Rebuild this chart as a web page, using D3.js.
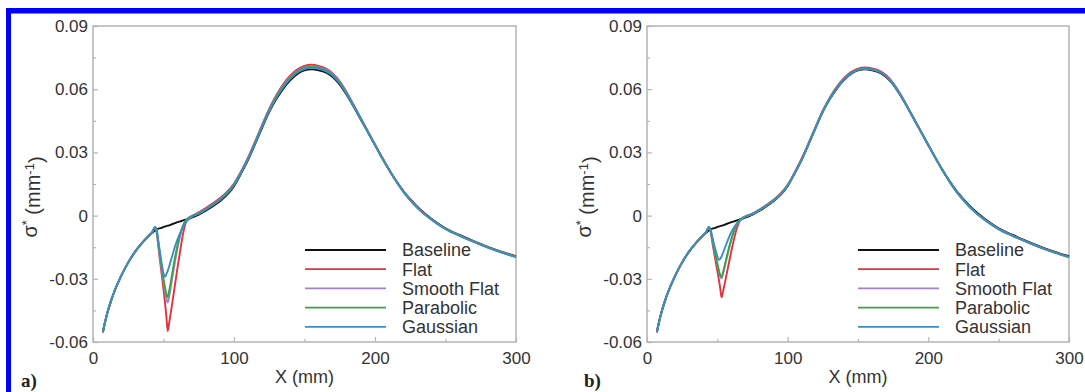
<!DOCTYPE html>
<html>
<head>
<meta charset="utf-8">
<script src="https://cdn.jsdelivr.net/npm/d3@7"></script>
<style>
  html, body { margin: 0; padding: 0; background: #fff; }
  svg { display: block; }
</style>
</head>
<body>
<svg id="fig" width="1085" height="392"></svg>
<script>
// ---- data -------------------------------------------------------------
const seriesNames  = ["Baseline", "Flat", "Smooth Flat", "Parabolic", "Gaussian"];
const seriesColors = ["#111111", "#e0333d", "#a283c8", "#3ba344", "#3d8dc4"];

const yTickValues = [-0.06, -0.03, 0, 0.03, 0.06, 0.09];
const yTickLabels = ["-0.06", "-0.03", "0", "0.03", "0.06", "0.09"];
const yMinorTicks = [-0.045, -0.015, 0.015, 0.045, 0.075];
const xTickValues = [0, 100, 200, 300];
const xTickLabels = ["0", "100", "200", "300"];
const xMinorTicks = [50, 150, 250];

// X positions (mm): upstream part, dip region, downstream part
const xPre  = [7, 8, 10, 13, 16, 20, 25, 30, 35, 40];
const xDip  = [42, 44, 45, 47, 49, 50, 51, 52, 53, 54, 56, 58, 60, 62, 64, 66, 68, 70];
const xPost = [75, 80, 85, 90, 95, 100, 105, 110, 115, 120, 125, 130, 135, 140, 145, 150,
               155, 160, 165, 170, 175, 180, 185, 190, 195, 200, 205, 210, 215, 220, 225, 230,
               240, 250, 260, 270, 280, 290, 300];

// upstream part, common to every case
const yPre = [-0.0554, -0.0522, -0.0466, -0.0400, -0.0346, -0.0286, -0.0222, -0.0170, -0.0128, -0.0093];

// Baseline (same in both panels)
const baselineDip  = [-0.0082, -0.0071, -0.0066, -0.0061, -0.0057, -0.0054, -0.0052, -0.0050, -0.0048,
                      -0.0046, -0.0041, -0.0036, -0.0031, -0.0027, -0.0023, -0.0018, -0.0014, -0.0010];
const baselinePost = [0.0005, 0.0023, 0.0044, 0.0068, 0.0098, 0.0140, 0.0200, 0.0265, 0.0340, 0.0418,
                      0.0492, 0.0553, 0.0603, 0.0643, 0.0672, 0.0689, 0.0694, 0.0690, 0.0680, 0.0658,
                      0.0622, 0.0572, 0.0515, 0.0455, 0.0395, 0.0335, 0.0275, 0.0218, 0.0165, 0.0118,
                      0.0078, 0.0042, -0.0015, -0.0060, -0.0092, -0.0121, -0.0148, -0.0172, -0.0193];

// panel a)
const aFlatDip      = [-0.0077, -0.0057, -0.0075, -0.0185, -0.0295, -0.0350, -0.0410, -0.0475, -0.0548,
                       -0.0510, -0.0425, -0.0335, -0.0245, -0.0160, -0.0082, -0.0030, -0.0010, -0.0002];
const aSmoothDip    = [-0.0078, -0.0056, -0.0070, -0.0170, -0.0268, -0.0315, -0.0358, -0.0395, -0.0413,
                       -0.0385, -0.0305, -0.0225, -0.0152, -0.0092, -0.0048, -0.0022, -0.0010, -0.0003];
const aParabolicDip = [-0.0078, -0.0055, -0.0068, -0.0165, -0.0258, -0.0300, -0.0338, -0.0372, -0.0387,
                       -0.0358, -0.0282, -0.0205, -0.0138, -0.0083, -0.0044, -0.0021, -0.0010, -0.0003];
const aGaussianDip  = [-0.0079, -0.0054, -0.0063, -0.0150, -0.0238, -0.0275, -0.0290, -0.0278, -0.0262,
                       -0.0242, -0.0195, -0.0150, -0.0112, -0.0080, -0.0052, -0.0030, -0.0017, -0.0006];

const aFlatPost      = [0.0016, 0.0036, 0.0058, 0.0082, 0.0112, 0.0152, 0.0210, 0.0276, 0.0352, 0.0432,
                        0.0508, 0.0572, 0.0625, 0.0665, 0.0694, 0.0711, 0.0716, 0.0711, 0.0699, 0.0675,
                        0.0637, 0.0584, 0.0524, 0.0462, 0.0400, 0.0338, 0.0277, 0.0219, 0.0165, 0.0117,
                        0.0076, 0.0040, -0.0017, -0.0062, -0.0094, -0.0123, -0.0150, -0.0174, -0.0195];
const aSmoothPost    = [0.0012, 0.0031, 0.0053, 0.0077, 0.0107, 0.0148, 0.0207, 0.0273, 0.0349, 0.0428,
                        0.0503, 0.0566, 0.0618, 0.0658, 0.0687, 0.0704, 0.0709, 0.0705, 0.0694, 0.0671,
                        0.0633, 0.0581, 0.0522, 0.0460, 0.0398, 0.0336, 0.0275, 0.0217, 0.0163, 0.0115,
                        0.0074, 0.0038, -0.0019, -0.0063, -0.0095, -0.0124, -0.0151, -0.0175, -0.0196];
const aParabolicPost = [0.0011, 0.0030, 0.0052, 0.0076, 0.0106, 0.0147, 0.0206, 0.0272, 0.0347, 0.0426,
                        0.0501, 0.0564, 0.0615, 0.0655, 0.0684, 0.0701, 0.0706, 0.0702, 0.0691, 0.0668,
                        0.0631, 0.0579, 0.0520, 0.0459, 0.0397, 0.0336, 0.0275, 0.0217, 0.0163, 0.0115,
                        0.0074, 0.0038, -0.0019, -0.0063, -0.0095, -0.0124, -0.0151, -0.0175, -0.0196];
const aGaussianPost  = [0.0009, 0.0028, 0.0050, 0.0074, 0.0104, 0.0145, 0.0204, 0.0270, 0.0345, 0.0423,
                        0.0497, 0.0559, 0.0610, 0.0650, 0.0679, 0.0696, 0.0701, 0.0697, 0.0686, 0.0664,
                        0.0627, 0.0576, 0.0518, 0.0457, 0.0396, 0.0335, 0.0274, 0.0216, 0.0162, 0.0114,
                        0.0073, 0.0037, -0.0020, -0.0064, -0.0096, -0.0125, -0.0152, -0.0176, -0.0197];

// panel b)
const bFlatDip      = [-0.0078, -0.0056, -0.0070, -0.0150, -0.0225, -0.0262, -0.0300, -0.0342, -0.0388,
                       -0.0362, -0.0298, -0.0232, -0.0168, -0.0108, -0.0058, -0.0025, -0.0011, -0.0004];
const bSmoothDip    = [-0.0078, -0.0055, -0.0068, -0.0135, -0.0200, -0.0232, -0.0262, -0.0288, -0.0298,
                       -0.0278, -0.0222, -0.0166, -0.0115, -0.0072, -0.0040, -0.0021, -0.0011, -0.0004];
const bParabolicDip = [-0.0078, -0.0055, -0.0067, -0.0132, -0.0196, -0.0227, -0.0257, -0.0282, -0.0290,
                       -0.0270, -0.0215, -0.0160, -0.0110, -0.0069, -0.0039, -0.0021, -0.0011, -0.0004];
const bGaussianDip  = [-0.0079, -0.0054, -0.0063, -0.0118, -0.0170, -0.0193, -0.0210, -0.0206, -0.0194,
                       -0.0178, -0.0142, -0.0108, -0.0078, -0.0054, -0.0036, -0.0023, -0.0014, -0.0006];

const bFlatPost      = [0.0010, 0.0029, 0.0051, 0.0075, 0.0105, 0.0146, 0.0205, 0.0271, 0.0346, 0.0424,
                        0.0499, 0.0561, 0.0612, 0.0652, 0.0681, 0.0698, 0.0703, 0.0699, 0.0688, 0.0666,
                        0.0629, 0.0578, 0.0519, 0.0458, 0.0396, 0.0335, 0.0274, 0.0216, 0.0162, 0.0114,
                        0.0073, 0.0037, -0.0020, -0.0064, -0.0096, -0.0125, -0.0152, -0.0176, -0.0197];
const bSmoothPost    = [0.0008, 0.0027, 0.0048, 0.0072, 0.0102, 0.0143, 0.0203, 0.0268, 0.0343, 0.0421,
                        0.0495, 0.0557, 0.0607, 0.0647, 0.0676, 0.0693, 0.0698, 0.0694, 0.0684, 0.0662,
                        0.0625, 0.0575, 0.0517, 0.0456, 0.0395, 0.0334, 0.0274, 0.0216, 0.0162, 0.0114,
                        0.0073, 0.0037, -0.0020, -0.0064, -0.0096, -0.0125, -0.0152, -0.0176, -0.0197];
const bParabolicPost = [0.0008, 0.0027, 0.0048, 0.0072, 0.0102, 0.0143, 0.0203, 0.0268, 0.0343, 0.0421,
                        0.0495, 0.0557, 0.0607, 0.0647, 0.0676, 0.0693, 0.0698, 0.0694, 0.0684, 0.0662,
                        0.0625, 0.0575, 0.0517, 0.0456, 0.0395, 0.0334, 0.0274, 0.0216, 0.0162, 0.0114,
                        0.0073, 0.0037, -0.0020, -0.0064, -0.0096, -0.0125, -0.0152, -0.0176, -0.0197];
const bGaussianPost  = [0.0007, 0.0026, 0.0047, 0.0071, 0.0101, 0.0142, 0.0202, 0.0267, 0.0342, 0.0420,
                        0.0494, 0.0556, 0.0606, 0.0646, 0.0675, 0.0692, 0.0697, 0.0693, 0.0683, 0.0661,
                        0.0624, 0.0574, 0.0516, 0.0456, 0.0395, 0.0334, 0.0274, 0.0216, 0.0162, 0.0114,
                        0.0073, 0.0037, -0.0020, -0.0064, -0.0096, -0.0125, -0.0152, -0.0176, -0.0197];

// ---- assemble series ---------------------------------------------------
const xAll = xPre.concat(xDip, xPost);
function makeSeries(dip, post) {
  const ys = yPre.concat(dip, post);
  return xAll.map((x, i) => ({ x: x, y: ys[i] }));
}
const panelSeries = [
  [
    makeSeries(baselineDip, baselinePost),
    makeSeries(aFlatDip, aFlatPost),
    makeSeries(aSmoothDip, aSmoothPost),
    makeSeries(aParabolicDip, aParabolicPost),
    makeSeries(aGaussianDip, aGaussianPost)
  ],
  [
    makeSeries(baselineDip, baselinePost),
    makeSeries(bFlatDip, bFlatPost),
    makeSeries(bSmoothDip, bSmoothPost),
    makeSeries(bParabolicDip, bParabolicPost),
    makeSeries(bGaussianDip, bGaussianPost)
  ]
];

// ---- layout -------------------------------------------------------------
const svg = d3.select("#fig");
const FONT = "'Liberation Sans', Arial, Helvetica, sans-serif";
const TEXT = "#333";
const FRAME = "#b4b4b4";
const plotTop = 26, plotBottom = 342;

const panels = [
  { left: 93,  right: 516,  tag: "a)", tagX: 21 },
  { left: 647, right: 1069, tag: "b)", tagX: 584 }
];

// blue frame along top and left edge
svg.append("rect").attr("x", 6).attr("y", 8).attr("width", 1085).attr("height", 5.5).attr("fill", "#0000ff");
svg.append("rect").attr("x", 6).attr("y", 8).attr("width", 5).attr("height", 392).attr("fill", "#0000ff");

panels.forEach((p, pi) => {
  const g = svg.append("g");
  const x = d3.scaleLinear().domain([0, 300]).range([p.left, p.right]);
  const y = d3.scaleLinear().domain([-0.06, 0.09]).range([plotBottom, plotTop]);

  // axes (ticks pointing inward)
  const yAxis = d3.axisLeft(y).tickValues(yTickValues)
    .tickFormat((d, i) => yTickLabels[i]).tickSizeInner(-5).tickSizeOuter(0).tickPadding(5);
  const yMinor = d3.axisLeft(y).tickValues(yMinorTicks).tickFormat("").tickSizeInner(-3).tickSizeOuter(0);
  const xAxis = d3.axisBottom(x).tickValues(xTickValues)
    .tickFormat((d, i) => xTickLabels[i]).tickSizeInner(-5).tickSizeOuter(0).tickPadding(10);
  const xMinor = d3.axisBottom(x).tickValues(xMinorTicks).tickFormat("").tickSizeInner(-3).tickSizeOuter(0);

  const axes = [
    g.append("g").attr("transform", `translate(${p.left},0)`).call(yAxis),
    g.append("g").attr("transform", `translate(${p.left},0)`).call(yMinor),
    g.append("g").attr("transform", `translate(0,${plotBottom})`).call(xAxis),
    g.append("g").attr("transform", `translate(0,${plotBottom})`).call(xMinor)
  ];
  axes.forEach(a => {
    a.select(".domain").remove();
    a.selectAll("line").attr("stroke", FRAME).attr("stroke-width", 1.2);
    a.selectAll("text").attr("fill", TEXT).style("font-family", FONT).style("font-size", "17px");
  });

  // plot frame
  g.append("rect")
    .attr("x", p.left).attr("y", plotTop)
    .attr("width", p.right - p.left).attr("height", plotBottom - plotTop)
    .attr("fill", "none").attr("stroke", FRAME).attr("stroke-width", 1.5);

  // curves
  const line = d3.line().x(d => x(d.x)).y(d => y(d.y)).curve(d3.curveMonotoneX);
  panelSeries[pi].forEach((s, si) => {
    g.append("path").datum(s)
      .attr("d", line)
      .attr("fill", "none")
      .attr("stroke", seriesColors[si])
      .attr("stroke-width", 1.9)
      .attr("stroke-linejoin", "round");
  });

  // legend
  const lg = g.append("g");
  seriesNames.forEach((name, i) => {
    const ly = 250 + i * 19.2;
    lg.append("line")
      .attr("x1", p.right - 211).attr("x2", p.right - 130)
      .attr("y1", ly).attr("y2", ly)
      .attr("stroke", seriesColors[i]).attr("stroke-width", 1.8);
    lg.append("text")
      .attr("x", p.right - 114).attr("y", ly).attr("dy", "0.36em")
      .attr("fill", TEXT).style("font-family", FONT).style("font-size", "18px")
      .text(name);
  });

  // axis titles
  g.append("text")
    .attr("x", (p.left + p.right) / 2).attr("y", 383)
    .attr("text-anchor", "middle").attr("fill", TEXT)
    .style("font-family", FONT).style("font-size", "18px")
    .text("X (mm)");

  const yt = g.append("text")
    .attr("transform", `translate(${p.left - 56},${(plotTop + plotBottom) / 2 + 13}) rotate(-90)`)
    .attr("text-anchor", "middle").attr("fill", TEXT)
    .style("font-family", FONT).style("font-size", "20px");
  yt.append("tspan").text("σ");
  yt.append("tspan").attr("dy", "-0.45em").style("font-size", "13px").text("*");
  yt.append("tspan").attr("dy", "0.45em").text(" (mm");
  yt.append("tspan").attr("dy", "-0.45em").style("font-size", "13px").text("-1");
  yt.append("tspan").attr("dy", "0.45em").text(")");

  // panel tag
  g.append("text")
    .attr("x", p.tagX).attr("y", 387)
    .attr("fill", "#222")
    .style("font-family", "'Liberation Serif', 'Times New Roman', serif")
    .style("font-size", "19px").style("font-weight", "bold")
    .text(p.tag);
});
</script>
</body>
</html>
